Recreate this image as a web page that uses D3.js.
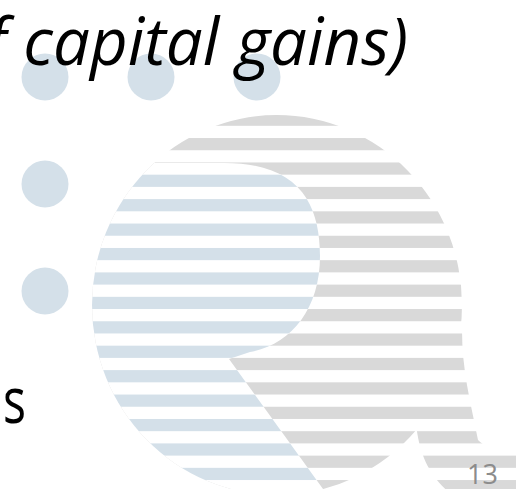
<!DOCTYPE html>
<html>
<head>
<meta charset="utf-8">
<script src="https://cdn.jsdelivr.net/npm/d3@7"></script>
<style>
  html, body { margin: 0; padding: 0; background: #ffffff; overflow: hidden; }
  svg { display: block; }
</style>
</head>
<body>
<div id="chart"></div>
<script>
// ---- data ----
const stripeRows = [0, 1, 2, 3, 4, 5, 6, 7, 8, 9, 10, 11, 12, 13, 14, 15, 16];
const dotCols = [0, 1, 2];        // top row of dots
const dotRows = [1, 2];           // left column (below the shared corner dot)
const titleText = "f capital gains)";
const bodyText = "s";
const pageNumber = "13";

// ---- setup ----
const W = 516, H = 489;
const svg = d3.select("#chart").append("svg")
  .attr("width", W).attr("height", H)
  .attr("viewBox", `0 0 ${W} ${H}`);

svg.append("rect").attr("width", W).attr("height", H).attr("fill", "#ffffff");

const grayCol = "#d9d9d9";
const blueCol = "#d4e0e9";

// scales
const yStripe = d3.scaleLinear().domain([0, 1]).range([113.6, 138.03]);
const stripeH = 12.2;
const xDot = d3.scaleLinear().domain([0, 2]).range([45, 257]);
const yDot = d3.scaleLinear().domain([0, 2]).range([77, 291]);

const defs = svg.append("defs");

// big Q ellipse
const E = { cx: 277, cy: 305, rx: 185, ry: 190 };

const grayClip = defs.append("clipPath").attr("id", "grayClip");
grayClip.append("ellipse")
  .attr("cx", E.cx).attr("cy", E.cy).attr("rx", E.rx).attr("ry", E.ry);
// Q tail
grayClip.append("path")
  .attr("d", "M 420 340 L 416 425 C 420 455, 428 475, 452 495 L 530 495 L 530 452 C 500 450, 485 448, 478 440 C 470 400, 462 370, 462 330 Z");

const ellClip = defs.append("clipPath").attr("id", "ellClip");
ellClip.append("ellipse")
  .attr("cx", E.cx).attr("cy", E.cy).attr("rx", E.rx).attr("ry", E.ry);

const bowlClip = defs.append("clipPath").attr("id", "bowlClip");
bowlClip.append("path")
  .attr("d", "M 0 163 L 224 163 C 300 163, 320 205, 320 256 C 320 310, 290 345, 250 352 L 229 359 L 331 500 L 0 500 Z");

// ---- gray striped Q ----
const gGray = svg.append("g").attr("clip-path", "url(#grayClip)");
gGray.selectAll("rect")
  .data(stripeRows)
  .join("rect")
  .attr("x", 0)
  .attr("width", W)
  .attr("y", d => yStripe(d))
  .attr("height", stripeH)
  .attr("fill", grayCol);

// ---- blue striped bowl ----
const gBlueOuter = svg.append("g").attr("clip-path", "url(#ellClip)");
const gBlue = gBlueOuter.append("g").attr("clip-path", "url(#bowlClip)");
gBlue.append("rect").attr("x", 0).attr("y", 0).attr("width", W).attr("height", H).attr("fill", "#ffffff");
gBlue.selectAll("rect.bs")
  .data(stripeRows)
  .join("rect")
  .attr("class", "bs")
  .attr("x", 0)
  .attr("width", W)
  .attr("y", d => yStripe(d + 0.5))
  .attr("height", stripeH)
  .attr("fill", blueCol);

// ---- dots ----
const dotR = 23.5;
svg.append("g").selectAll("circle.top")
  .data(dotCols)
  .join("circle")
  .attr("class", "top")
  .attr("cx", d => xDot(d))
  .attr("cy", yDot(0))
  .attr("r", dotR)
  .attr("fill", blueCol);
svg.append("g").selectAll("circle.left")
  .data(dotRows)
  .join("circle")
  .attr("class", "left")
  .attr("cx", xDot(0))
  .attr("cy", d => yDot(d))
  .attr("r", dotR)
  .attr("fill", blueCol);

// ---- text ----
svg.append("text")
  .attr("x", -14)
  .attr("y", 65)
  .attr("font-family", "'Open Sans', 'Noto Sans', sans-serif")
  .attr("font-style", "italic")
  .attr("font-size", 66)
  .attr("fill", "#000000")
  .attr("textLength", 422)
  .attr("lengthAdjust", "spacingAndGlyphs")
  .text(titleText);

svg.append("text")
  .attr("x", 3)
  .attr("y", 423)
  .attr("font-family", "'Open Sans', 'Noto Sans', sans-serif")
  .attr("font-size", 64)
  .attr("fill", "#000000")
  .attr("textLength", 23)
  .attr("lengthAdjust", "spacingAndGlyphs")
  .text(bodyText);

svg.append("text")
  .attr("x", 467)
  .attr("y", 484)
  .attr("font-family", "'Open Sans', 'Noto Sans', sans-serif")
  .attr("font-size", 27)
  .attr("fill", "#8c8c8c")
  .text(pageNumber);
</script>
</body>
</html>
